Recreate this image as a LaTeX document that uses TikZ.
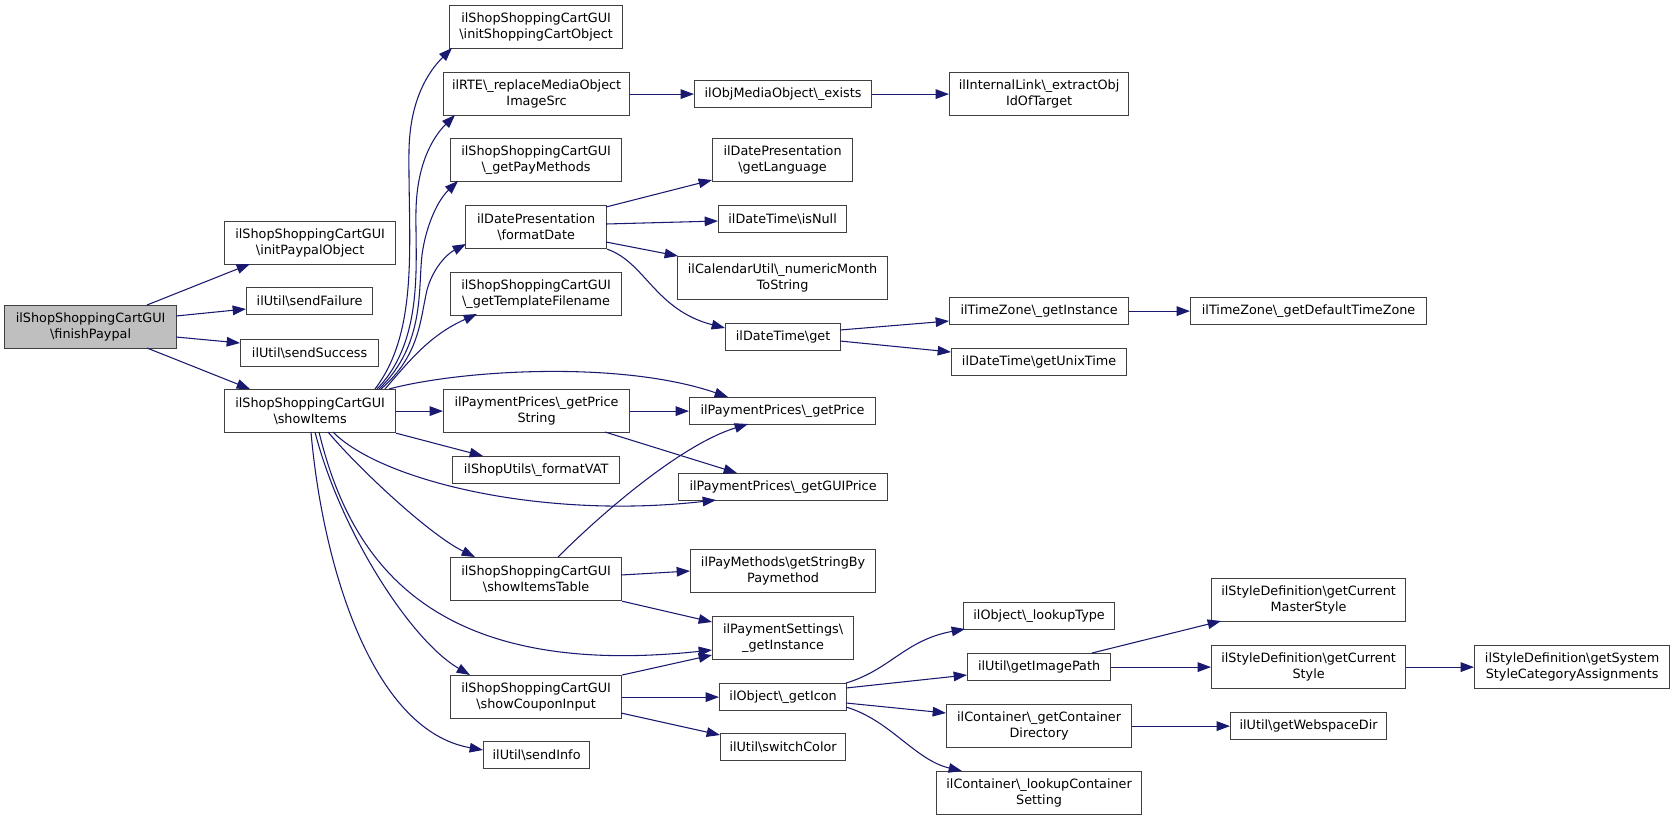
\documentclass[tikz,border=0pt]{standalone}
\usepackage{fontspec}
\setmainfont{DejaVu Sans}
\usetikzlibrary{arrows.meta}
\definecolor{edgeblue}{HTML}{191970}
\definecolor{boxline}{HTML}{404040}
\definecolor{rootfill}{HTML}{BFBFBF}
\begin{document}
\begin{tikzpicture}[x=0.75pt,y=-0.75pt,
  box/.style={draw=boxline, line width=0.9pt, fill=white, inner sep=0pt, align=center,
    font=\fontsize{9.6}{12}\selectfont, anchor=north west},
  wh/.style 2 args={minimum width=#1*0.75pt, minimum height=#2*0.75pt},
  edge/.style={draw=edgeblue, line width=0.8pt, -{Triangle[length=10pt,width=7.2pt]}}]
\fill[white] (0,0) rectangle (1675,819);
\useasboundingbox (0,0) rectangle (1675,819);
% nodes
\node[box, wh={172}{43}, fill=rootfill] (F) at (4,305) {ilShopShoppingCartGUI\\\textbackslash finishPaypal};
\node[box, wh={171}{43}] (IPO) at (224,221) {ilShopShoppingCartGUI\\\textbackslash initPaypalObject};
\node[box, wh={126}{27}] (SF) at (246,287) {ilUtil\textbackslash sendFailure};
\node[box, wh={138}{27}] (SS) at (240,339) {ilUtil\textbackslash sendSuccess};
\node[box, wh={171}{43}] (S) at (224,389) {ilShopShoppingCartGUI\\\textbackslash showItems};
\node[box, wh={173}{43}] (ISCO) at (449,5) {ilShopShoppingCartGUI\\\textbackslash initShoppingCartObject};
\node[box, wh={186}{43}] (RTE) at (443,72) {ilRTE\textbackslash\_replaceMediaObject\\ImageSrc};
\node[box, wh={171}{43}] (GPM) at (450,138) {ilShopShoppingCartGUI\\\textbackslash\_getPayMethods};
\node[box, wh={141}{43}] (FD) at (465,205) {ilDatePresentation\\\textbackslash formatDate};
\node[box, wh={171}{43}] (GTF) at (450,272) {ilShopShoppingCartGUI\\\textbackslash\_getTemplateFilename};
\node[box, wh={186}{43}] (PS) at (443,389) {ilPaymentPrices\textbackslash\_getPrice\\String};
\node[box, wh={167}{27}] (VAT) at (452,456) {ilShopUtils\textbackslash\_formatVAT};
\node[box, wh={171}{43}] (ST) at (450,557) {ilShopShoppingCartGUI\\\textbackslash showItemsTable};
\node[box, wh={171}{43}] (SC) at (450,675) {ilShopShoppingCartGUI\\\textbackslash showCouponInput};
\node[box, wh={106}{27}] (SI) at (483,741) {ilUtil\textbackslash sendInfo};
\node[box, wh={177}{27}] (OMO) at (694,80) {ilObjMediaObject\textbackslash\_exists};
\node[box, wh={179}{43}] (IL) at (949,72) {ilInternalLink\textbackslash\_extractObj\\IdOfTarget};
\node[box, wh={140}{43}] (GL) at (712,138) {ilDatePresentation\\\textbackslash getLanguage};
\node[box, wh={128}{27}] (IN) at (718,205) {ilDateTime\textbackslash isNull};
\node[box, wh={210}{43}] (NM) at (677,256) {ilCalendarUtil\textbackslash\_numericMonth\\ToString};
\node[box, wh={115}{27}] (DG) at (725,323) {ilDateTime\textbackslash get};
\node[box, wh={179}{27}] (TZ) at (949,297) {ilTimeZone\textbackslash\_getInstance};
\node[box, wh={175}{27}] (UT) at (951,348) {ilDateTime\textbackslash getUnixTime};
\node[box, wh={186}{27}] (GP) at (689,397) {ilPaymentPrices\textbackslash\_getPrice};
\node[box, wh={209}{27}] (GUI) at (678,473) {ilPaymentPrices\textbackslash\_getGUIPrice};
\node[box, wh={185}{43}] (SB) at (690,549) {ilPayMethods\textbackslash getStringBy\\Paymethod};
\node[box, wh={141}{43}] (PSet) at (712,616) {ilPaymentSettings\textbackslash\\\_getInstance};
\node[box, wh={127}{27}] (GI) at (719,683) {ilObject\textbackslash\_getIcon};
\node[box, wh={125}{27}] (SW) at (720,733) {ilUtil\textbackslash switchColor};
\node[box, wh={151}{27}] (LT) at (963,602) {ilObject\textbackslash\_lookupType};
\node[box, wh={143}{27}] (IP) at (967,653) {ilUtil\textbackslash getImagePath};
\node[box, wh={185}{43}] (CD) at (946,704) {ilContainer\textbackslash\_getContainer\\Directory};
\node[box, wh={205}{43}] (LC) at (936,771) {ilContainer\textbackslash\_lookupContainer\\Setting};
\node[box, wh={236}{27}] (DTZ) at (1190,297) {ilTimeZone\textbackslash\_getDefaultTimeZone};
\node[box, wh={194}{43}] (MS) at (1211,578) {ilStyleDefinition\textbackslash getCurrent\\MasterStyle};
\node[box, wh={194}{43}] (CS) at (1211,645) {ilStyleDefinition\textbackslash getCurrent\\Style};
\node[box, wh={195}{43}] (SYS) at (1474,645) {ilStyleDefinition\textbackslash getSystem\\StyleCategoryAssignments};
\node[box, wh={156}{27}] (WD) at (1230,712) {ilUtil\textbackslash getWebspaceDir};
% edges from finishPaypal
\draw[edge] ([shift={(143,0)}]F.north west) -- ([shift={(26,43)}]IPO.north west);
\draw[edge] ([shift={(172,11)}]F.north west) -- ([shift={(0,22)}]SF.north west);
\draw[edge] ([shift={(172,32)}]F.north west) -- ([shift={(0,4)}]SS.north west);
\draw[edge] ([shift={(143,43)}]F.north west) -- ([shift={(26,0)}]S.north west);
% edges from showItems (upward fan)
\draw[edge] ([shift={(151,0)}]S.north west) .. controls (420,330) and (408,240) .. (409,150) .. controls (410,100) and (428,72) .. ([shift={(3,43)}]ISCO.north west);
\draw[edge] ([shift={(153,0)}]S.north west) .. controls (425,340) and (415,260) .. (416,210) .. controls (417,165) and (432,138) .. ([shift={(12,43)}]RTE.north west);
\draw[edge] ([shift={(155,0)}]S.north west) .. controls (425,345) and (418,290) .. (422,255) .. controls (426,225) and (438,200) .. ([shift={(8,43)}]GPM.north west);
\draw[edge] ([shift={(157,0)}]S.north west) .. controls (420,355) and (420,320) .. (427,290) .. controls (433,268) and (447,254) .. ([shift={(1,39)}]FD.north west);
\draw[edge] ([shift={(161,0)}]S.north west) .. controls (410,360) and (430,335) .. ([shift={(27,42)}]GTF.north west);
\draw[edge] ([shift={(165,0)}]S.north west) .. controls (460,370) and (620,360) .. ([shift={(39,0)}]GP.north west);
\draw[edge] (S.east) -- (PS.west);
\draw[edge] (S.south east) -- ([shift={(31,0)}]VAT.north west);
% downward fan
\draw[edge] ([shift={(109,43)}]S.north west) .. controls (380,480) and (540,520) .. ([shift={(38,27)}]GUI.north west);
\draw[edge] ([shift={(104,43)}]S.north west) .. controls (360,470) and (430,535) .. ([shift={(25,0)}]ST.north west);
\draw[edge] ([shift={(95,43)}]S.north west) .. controls (350,560) and (430,680) .. ([shift={(0,34)}]PSet.north west);
\draw[edge] ([shift={(91,43)}]S.north west) .. controls (340,530) and (410,640) .. ([shift={(20,0)}]SC.north west);
\draw[edge] ([shift={(87,43)}]S.north west) .. controls (322,560) and (370,730) .. ([shift={(0,9)}]SI.north west);
% getPriceString
\draw[edge] (PS.east) -- (GP.west);
\draw[edge] ([shift={(162,43)}]PS.north west) -- ([shift={(59,0)}]GUI.north west);
% showItemsTable
\draw[edge] ([shift={(108,0)}]ST.north west) .. controls (600,515) and (680,445) .. ([shift={(59,27)}]GP.north west);
\draw[edge] ([shift={(171,18)}]ST.north west) -- ([shift={(0,22)}]SB.north west);
\draw[edge] (ST.south east) -- ([shift={(0,6)}]PSet.north west);
% showCouponInput
\draw[edge] (SC.north east) -- ([shift={(0,39)}]PSet.north west);
\draw[edge] (SC.east) -- (GI.west);
\draw[edge] ([shift={(171,38)}]SC.north west) -- ([shift={(0,2)}]SW.north west);
% formatDate
\draw[edge] ([shift={(141,2)}]FD.north west) -- ([shift={(0,42)}]GL.north west);
\draw[edge] ([shift={(141,19)}]FD.north west) -- ([shift={(0,16)}]IN.north west);
\draw[edge] ([shift={(141,37)}]FD.north west) -- ([shift={(1,0)}]NM.north west);
\draw[edge] (FD.south east) .. controls (645,262) and (655,310) .. ([shift={(0,5)}]DG.north west);
% media object
\draw[edge] (RTE.east) -- (OMO.west);
\draw[edge] (OMO.east) -- (IL.west);
% date time
\draw[edge] ([shift={(115,7)}]DG.north west) -- ([shift={(0,24)}]TZ.north west);
\draw[edge] ([shift={(115,18)}]DG.north west) -- ([shift={(0,4)}]UT.north west);
\draw[edge] (TZ.east) -- (DTZ.west);
% getIcon
\draw[edge] ([shift={(127,0)}]GI.north west) .. controls (890,670) and (905,640) .. ([shift={(2,27)}]LT.north west);
\draw[edge] ([shift={(127,5)}]GI.north west) -- ([shift={(0,22)}]IP.north west);
\draw[edge] ([shift={(127,20)}]GI.north west) -- ([shift={(0,9)}]CD.north west);
\draw[edge] ([shift={(127,24)}]GI.north west) .. controls (890,720) and (915,760) .. ([shift={(26,0)}]LC.north west);
% image path / style
\draw[edge] ([shift={(125,0)}]IP.north west) -- ([shift={(10,43)}]MS.north west);
\draw[edge] (IP.east) -- (CS.west);
\draw[edge] (CS.east) -- (SYS.west);
\draw[edge] (CD.east) -- (WD.west);
\end{tikzpicture}
\end{document}
